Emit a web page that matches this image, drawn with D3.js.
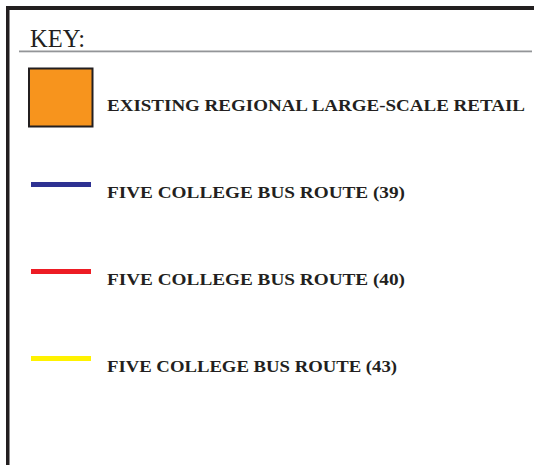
<!DOCTYPE html>
<html>
<head>
<meta charset="utf-8">
<script src="https://cdn.jsdelivr.net/npm/d3@7"></script>
<style>
  html, body { margin: 0; padding: 0; background: #fff; }
  svg { display: block; }
</style>
</head>
<body>
<svg id="chart" width="534" height="465"></svg>
<script>
const title = "KEY:";
const labels = [
  "EXISTING REGIONAL LARGE-SCALE RETAIL",
  "FIVE COLLEGE BUS ROUTE (39)",
  "FIVE COLLEGE BUS ROUTE (40)",
  "FIVE COLLEGE BUS ROUTE (43)"
];
const symbols = ["square", "line", "line", "line"];
const colors = ["#F7941D", "#2E3192", "#ED1C24", "#FFF200"];
const labelWidths = [418, 298, 298, 290];

const svg = d3.select("#chart");

// frame
svg.append("rect").attr("x", 6).attr("y", 6).attr("width", 528).attr("height", 4).attr("fill", "#231F20");
svg.append("rect").attr("x", 6).attr("y", 6).attr("width", 3.5).attr("height", 459).attr("fill", "#231F20");

// title
svg.append("text").attr("x", 30).attr("y", 47)
  .attr("font-family", "'Liberation Serif', serif").attr("font-size", 25)
  .attr("fill", "#231F20").attr("textLength", 55).attr("lengthAdjust", "spacingAndGlyphs")
  .text(title);
svg.append("rect").attr("x", 19).attr("y", 50.5).attr("width", 513).attr("height", 1.8).attr("fill", "#939598");

const y = d3.scalePoint().domain(labels).range([97.5, 358.5]);

const g = svg.append("g");
labels.forEach((lab, i) => {
  const cy = y(lab);
  if (symbols[i] === "square") {
    g.append("rect").attr("x", 29).attr("y", cy - 29).attr("width", 63.5).attr("height", 58)
      .attr("fill", colors[i]).attr("stroke", "#231F20").attr("stroke-width", 2);
  } else {
    g.append("rect").attr("x", 31).attr("y", cy - 2.5).attr("width", 60).attr("height", 5)
      .attr("fill", colors[i]);
  }
  g.append("text").attr("x", 107).attr("y", cy + 13)
    .attr("font-family", "'Liberation Serif', serif").attr("font-weight", "bold")
    .attr("font-size", 17).attr("fill", "#231F20")
    .attr("textLength", labelWidths[i]).attr("lengthAdjust", "spacingAndGlyphs")
    .text(lab);
});
</script>
</body>
</html>
